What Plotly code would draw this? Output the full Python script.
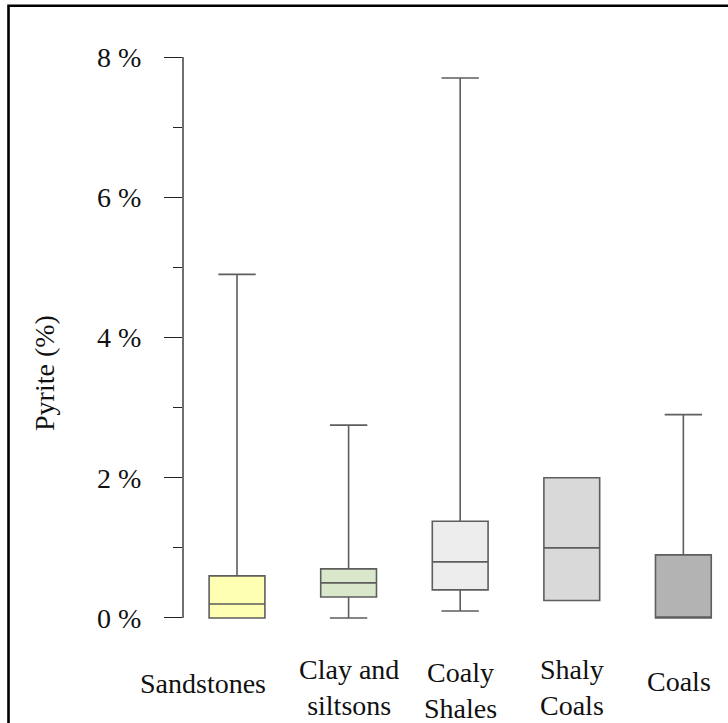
import plotly.graph_objects as go

# Pyrite content by lithology (percent)
categories = ["Sandstones", "Clay and siltsons", "Coaly Shales", "Shaly Coals", "Coals"]
label_lines = ["Sandstones", "Clay and<br>siltsons", "Coaly<br>Shales", "Shaly<br>Coals", "Coals"]
lower_whisker = [0.0, 0.0, 0.1, 0.25, 0.0]
q1_values = [0.0, 0.3, 0.4, 0.25, 0.0]
median_values = [0.2, 0.5, 0.8, 1.0, 0.0]
q3_values = [0.6, 0.7, 1.38, 2.0, 0.9]
upper_whisker = [4.9, 2.75, 7.7, 2.0, 2.9]

fill_colors = ["#FFFFB3", "#D9E7CB", "#EDEDED", "#D9D9D9", "#B3B3B3"]

y_tick_values = [0, 2, 4, 6, 8]
y_tick_text = ["0 %", "2 %", "4 %", "6 %", "8 %"]
y_minor_values = [1, 3, 5, 7]

W, H = 728, 723
M_L, M_R, M_T, M_B = 183, 0, 57, 84
PW, PH = W - M_L - M_R, H - M_T - M_B

FONT = "Liberation Serif, Times New Roman, serif"
FONT_SIZE = 28


def px_to_paper_x(px):
    return (px - M_L) / PW


def px_to_paper_y(py):
    return (H - M_B - py) / PH


fig = go.Figure()
for i, cat in enumerate(categories):
    fig.add_trace(go.Box(
        x=[cat],
        q1=[q1_values[i]],
        median=[median_values[i]],
        q3=[q3_values[i]],
        lowerfence=[lower_whisker[i]],
        upperfence=[upper_whisker[i]],
        width=0.5,
        whiskerwidth=0.67,
        fillcolor=fill_colors[i],
        line=dict(color="#5E5E5E", width=1.6),
        boxpoints=False,
        showlegend=False,
        hoverinfo="skip",
    ))

# Category labels under each box (pixel centre and horizontal nudge)
label_centers_px = [683, 687, 690, 687, 681]
label_xshift = [-34, 0, 0, 0, -4]
annotations = []
for i, cat in enumerate(categories):
    annotations.append(dict(
        x=cat, xref="x",
        y=px_to_paper_y(label_centers_px[i]), yref="paper",
        yanchor="middle", xanchor="center", xshift=label_xshift[i],
        text=label_lines[i], showarrow=False,
        font=dict(family=FONT, size=FONT_SIZE, color="#111111"),
    ))

# Vertical axis title
annotations.append(dict(
    x=px_to_paper_x(44), xref="paper",
    y=px_to_paper_y(373), yref="paper",
    xanchor="center", yanchor="middle",
    text="Pyrite (%)", textangle=-90, showarrow=False,
    font=dict(family=FONT, size=FONT_SIZE, color="#111111"),
))

shapes = [
    # y axis line spanning the tick range only
    dict(type="line", xref="paper", yref="y", x0=0, x1=0, y0=0, y1=8,
         line=dict(color="#222222", width=1.3)),
    # outer frame
    dict(type="rect", xref="paper", yref="paper",
         x0=px_to_paper_x(8.5), x1=px_to_paper_x(760),
         y0=px_to_paper_y(760), y1=px_to_paper_y(5.8),
         line=dict(color="#000000", width=2.6)),
]

fig.update_layout(
    width=W, height=H,
    margin=dict(l=M_L, r=M_R, t=M_T, b=M_B),
    paper_bgcolor="white", plot_bgcolor="white",
    font=dict(family=FONT, size=FONT_SIZE, color="#111111"),
    annotations=annotations,
    shapes=shapes,
    xaxis=dict(
        type="category",
        range=[-0.484, 4.40],
        showticklabels=False, ticks="", showgrid=False, zeroline=False,
        showline=False,
    ),
    yaxis=dict(
        range=[-0.3, 8],
        tickmode="array", tickvals=y_tick_values, ticktext=y_tick_text,
        ticks="outside", ticklen=18, tickwidth=1.3, tickcolor="#222222",
        ticklabelstandoff=17,
        minor=dict(tickmode="array", tickvals=y_minor_values, ticks="outside",
                   ticklen=9, tickwidth=1.3, tickcolor="#222222", showgrid=False),
        showgrid=False, zeroline=False, showline=False,
        tickfont=dict(family=FONT, size=FONT_SIZE, color="#111111"),
    ),
)

fig.write_html("out.html")
